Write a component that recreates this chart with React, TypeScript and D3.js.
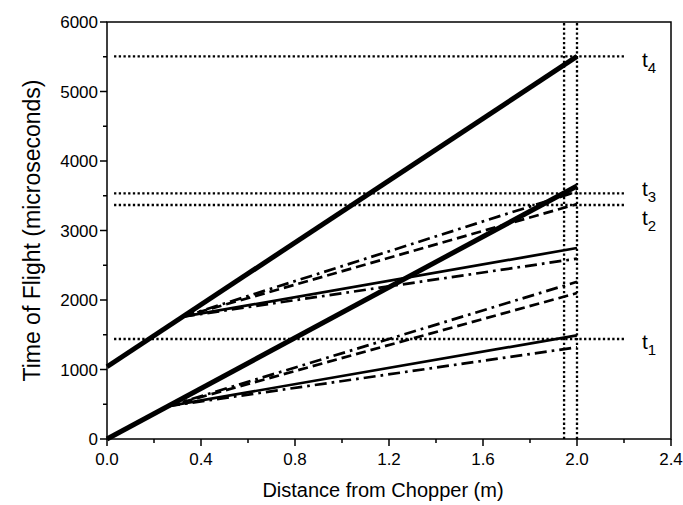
import React from "react";
import * as d3 from "d3";

const xTicks = [0, 0.4, 0.8, 1.2, 1.6, 2.0, 2.4];
const yTicks = [0, 1000, 2000, 3000, 4000, 5000, 6000];

// thick lines: [x0, y0, x1, y1]
const thickLines = [
  [0, 0, 2.0, 3640],
  [0, 1040, 2.0, 5505],
];
// thin fan lines: start point per cluster, end values at x=2.0
const clusterStarts = [
  [0.26, 473],
  [0.323, 1760],
];
const solidEnds = [1492, 2748];
const lowerDashDotEnds = [1320, 2595];
const upperDashDotEnds = [2262, 3560];
const dashedEnds = [2100, 3380];

const hLevels = [1439, 3367, 3535, 5505];
const hLabels = ["1", "2", "3", "4"];
const labelOffsets = [10, 20, 3, 11];
const vLevels = [1.945, 2.0];

export default function App() {
  const W = 683, H = 505;
  const L = 107, R = 671, T = 22, B = 439;
  const x = d3.scaleLinear().domain([0, 2.4]).range([L, R]);
  const y = d3.scaleLinear().domain([0, 6000]).range([B, T]);
  const font = "Arial, 'Liberation Sans', sans-serif";
  const xMinor = d3.range(0, 2.41, 0.2);
  const yMinor = d3.range(0, 6001, 500);
  const line = (x0: number, y0: number, x1: number, y1: number) =>
    d3.line()([[x(x0), y(y0)], [x(x1), y(y1)]]) as string;

  return (
    <svg width={W} height={H} style={{ display: "block", position: "absolute", left: 0, top: 0 }}>
      <rect x={0} y={0} width={W} height={H} fill="#fff" />
      {/* dotted reference lines */}
      {hLevels.map((v, i) => (
        <path key={"h" + i} d={line(0.03, v, 2.21, v)} stroke="#000" strokeWidth={2.3} strokeDasharray="2.3 2.4" fill="none" />
      ))}
      {vLevels.map((v, i) => (
        <path key={"v" + i} d={line(v, 0, v, 6000)} stroke="#000" strokeWidth={2.3} strokeDasharray="2.3 2.4" fill="none" />
      ))}
      {/* thin fan lines */}
      {clusterStarts.map(([sx, sy], i) => (
        <g key={"c" + i} fill="none" stroke="#000">
          <path d={line(sx, sy, 2.0, solidEnds[i])} strokeWidth={2.7} />
          <path d={line(sx, sy, 2.0, lowerDashDotEnds[i])} strokeWidth={2.7} strokeDasharray="12 5 2.7 5" />
          <path d={line(sx, sy, 2.0, upperDashDotEnds[i])} strokeWidth={2.7} strokeDasharray="12 5 2.7 5" />
          <path d={line(sx, sy, 2.0, dashedEnds[i])} strokeWidth={2.7} strokeDasharray="10 5" />
        </g>
      ))}
      {thickLines.map((l, i) => (
        <path key={"t" + i} d={line(l[0], l[1], l[2], l[3])} stroke="#000" strokeWidth={5} fill="none" />
      ))}
      {/* frame */}
      <rect x={L} y={T} width={R - L} height={B - T} fill="none" stroke="#000" strokeWidth={1.5} />
      {/* ticks */}
      {xMinor.map((v, i) => (
        <line key={"xm" + i} x1={x(v)} x2={x(v)} y1={B} y2={B + (i % 2 === 0 ? 7 : 4)} stroke="#000" strokeWidth={1.5} />
      ))}
      {yMinor.map((v, i) => (
        <line key={"ym" + i} y1={y(v)} y2={y(v)} x1={L} x2={L - (i % 2 === 0 ? 7 : 4)} stroke="#000" strokeWidth={1.5} />
      ))}
      {xTicks.map((v, i) => (
        <text key={"xt" + i} x={x(v)} y={B + 26} textAnchor="middle" fontFamily={font} fontSize={17}>
          {v.toFixed(1)}
        </text>
      ))}
      {yTicks.map((v, i) => (
        <text key={"yt" + i} x={L - 9} y={y(v) + 6} textAnchor="end" fontFamily={font} fontSize={17}>
          {v}
        </text>
      ))}
      <text x={(L + R) / 2 - 6} y={497} textAnchor="middle" fontFamily={font} fontSize={20}>
        Distance from Chopper (m)
      </text>
      <text transform={`translate(40, ${(T + B) / 2}) rotate(-90)`} textAnchor="middle" fontFamily={font} fontSize={23}>
        Time of Flight (microseconds)
      </text>
      {hLevels.map((v, i) => (
        <text key={"lab" + i} x={642} y={y(v) + labelOffsets[i]} fontFamily={font} fontSize={21}>
          t<tspan fontSize={15} dy={6}>{hLabels[i]}</tspan>
        </text>
      ))}
    </svg>
  );
}
